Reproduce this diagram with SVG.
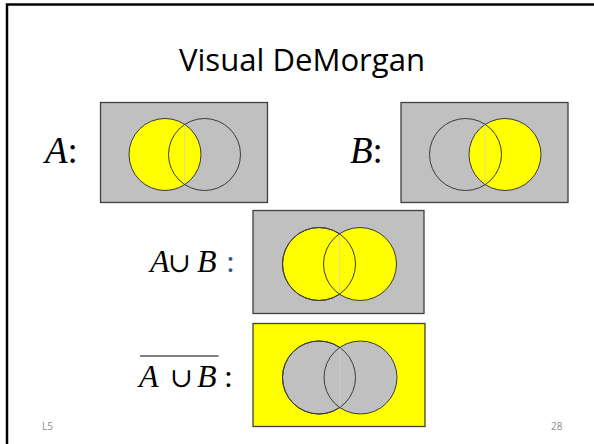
<svg xmlns="http://www.w3.org/2000/svg" width="594" height="444" viewBox="0 0 594 444">
<style>
.box{stroke:#404040;stroke-width:1.3}
.gray{fill:#C0C0C0}
.yel{fill:#FFFF00}
.c{stroke:#3a3a3a;stroke-width:1}
.none{fill:none}
.lbl{font-family:"Liberation Serif","Times New Roman",serif;fill:#000}
.it{font-style:italic}
.cup{font-family:"DejaVu Serif","DejaVu Sans",serif;font-style:normal}
.foot{font-family:"Open Sans","Liberation Sans",sans-serif;font-size:10px;fill:#8C8C8C}
.seam{stroke:#d8d8a0;stroke-width:0.8}
</style>
<rect width="594" height="444" fill="#fff"/>
<path d="M7,444 V4.5 H594" fill="none" stroke="#000" stroke-width="2.5"/>
<text x="302" y="71" text-anchor="middle" font-family="'Open Sans','Liberation Sans',sans-serif" font-size="31" fill="#000" textLength="246" lengthAdjust="spacingAndGlyphs">Visual DeMorgan</text>

<g id="setA">
<text class="lbl" x="45" y="163" font-size="37"><tspan class="it">A</tspan>:</text>
<rect class="box gray" x="100.5" y="102.5" width="167" height="100"/>
<circle class="c yel" cx="165" cy="154.5" r="36"/>
<line class="seam" x1="184.5" y1="125" x2="184.5" y2="184"/>
<circle class="c none" cx="204.5" cy="154.5" r="36"/>
</g>

<g id="setB">
<text class="lbl" x="350" y="163" font-size="37"><tspan class="it">B</tspan>:</text>
<rect class="box gray" x="401" y="102.5" width="167" height="100"/>
<circle class="c yel" cx="505" cy="154.5" r="36"/>
<line class="seam" x1="485" y1="125" x2="485" y2="184"/>
<circle class="c none" cx="465.5" cy="154.5" r="36"/>
</g>

<g id="union">
<text class="lbl" y="272" font-size="32"><tspan class="it" x="150">A</tspan><tspan class="cup" x="168" font-size="27">∪</tspan><tspan class="it" x="197">B</tspan><tspan x="226" fill="#2F5597">:</tspan></text>
<rect class="box gray" x="253" y="210.5" width="171" height="103"/>
<circle class="c yel" cx="319" cy="264" r="36.5"/>
<circle class="c yel" cx="360" cy="264" r="36.5"/>
<circle class="c none" cx="319" cy="264" r="36.5"/>
<line class="seam" x1="339.5" y1="235" x2="339.5" y2="293"/>
</g>

<g id="complement">
<line x1="140" y1="356" x2="218.5" y2="356" stroke="#000" stroke-width="1.2"/>
<text class="lbl" y="386.5" font-size="32"><tspan class="it" x="139">A</tspan><tspan class="cup" x="170" font-size="27">∪</tspan><tspan class="it" x="197">B</tspan><tspan x="224">:</tspan></text>
<rect class="box yel" x="253" y="323.5" width="172" height="103"/>
<circle class="c gray" cx="319" cy="377.5" r="36.5"/>
<circle class="c gray" cx="360.5" cy="377.5" r="36.5"/>
<circle class="c none" cx="319" cy="377.5" r="36.5"/>
<line class="seam" x1="340" y1="348" x2="340" y2="407" style="stroke:#cfcfcf"/>
</g>

<text class="foot" x="42" y="430">L5</text>
<text class="foot" x="562.5" y="430" text-anchor="end">28</text>
</svg>
